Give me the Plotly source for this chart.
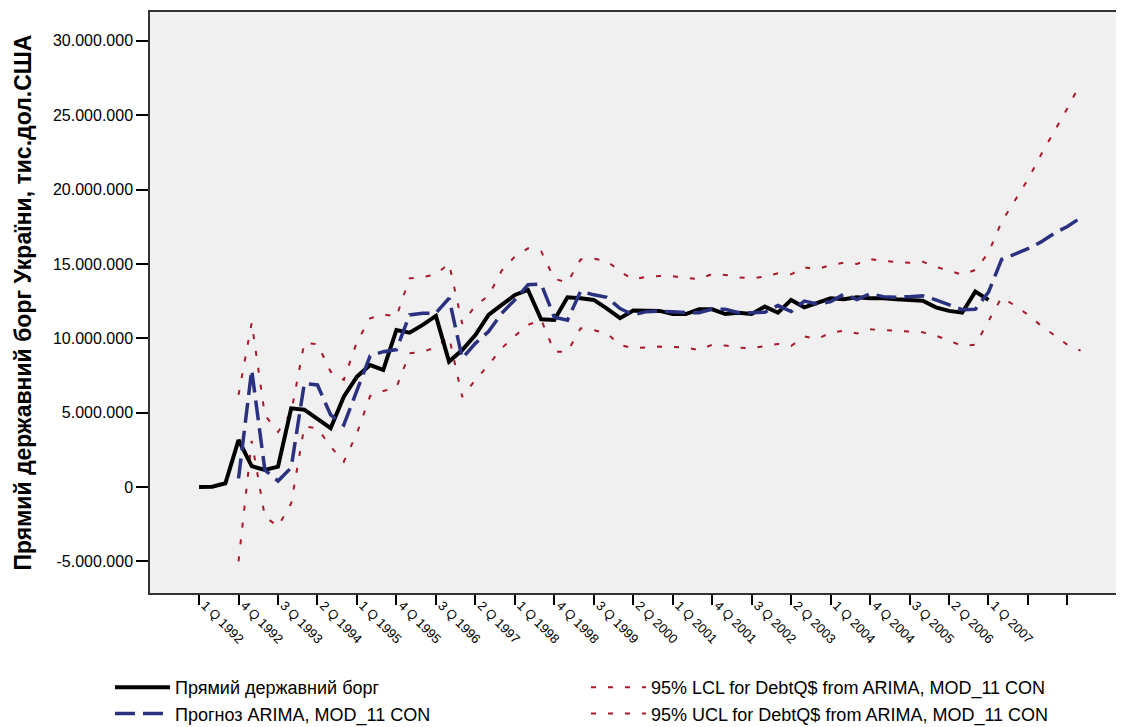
import plotly.graph_objects as go

# Quarter index (0 = 1 Q 1992)
tick_labels = ["1 Q 1992", "4 Q 1992", "3 Q 1993", "2 Q 1994", "1 Q 1995", "4 Q 1995",
               "3 Q 1996", "2 Q 1997", "1 Q 1998", "4 Q 1998", "3 Q 1999", "2 Q 2000",
               "1 Q 2001", "4 Q 2001", "3 Q 2002", "2 Q 2003", "1 Q 2004", "4 Q 2004",
               "3 Q 2005", "2 Q 2006", "1 Q 2007", "", ""]
tick_positions = [0, 3, 6, 9, 12, 15, 18, 21, 24, 27, 30, 33, 36, 39, 42, 45, 48, 51, 54, 57, 60, 63, 66]

y_tick_values = [-5e6, 0, 5e6, 10e6, 15e6, 20e6, 25e6, 30e6]
y_tick_labels = ["-5.000.000", "0", "5.000.000", "10.000.000", "15.000.000",
                 "20.000.000", "25.000.000", "30.000.000"]

# Values in millions of thousand USD
actual_start = 0
actual = [0.0, 0.02, 0.25, 3.16, 1.4, 1.14, 1.37, 5.29, 5.2, 4.6,
          3.95, 6.07, 7.42, 8.2, 7.87, 10.56, 10.38, 10.9, 11.5, 8.43,
          9.21, 10.22, 11.57, 12.24, 12.91, 13.25, 11.28, 11.23, 12.76, 12.69,
          12.58, 12.0, 11.35, 11.86, 11.85, 11.84, 11.63, 11.63, 11.95, 11.95,
          11.63, 11.72, 11.63, 12.13, 11.72, 12.58, 12.08, 12.39, 12.69, 12.62,
          12.76, 12.69, 12.69, 12.62, 12.58, 12.53, 12.08, 11.84, 11.72, 13.14,
          12.58]

model_start = 3
forecast = [0.58, 7.87, 1.14, 0.4, 1.3, 6.97, 6.86, 4.84, 4.17, 6.52,
            8.81, 9.1, 9.24, 11.57, 11.68, 11.7, 12.69, 8.65, 9.66, 10.45,
            11.68, 12.58, 13.6, 13.65, 11.42, 11.22, 13.17, 12.92, 12.75, 12.0,
            11.57, 11.79, 11.82, 11.79, 11.72, 11.72, 11.97, 11.95, 11.72, 11.72,
            11.75, 12.2, 11.8, 12.5, 12.3, 12.46, 12.96, 12.6, 13.0, 12.8,
            12.76, 12.8, 12.85, 12.58, 12.24, 11.92, 11.95, 13.1, 15.3, 15.63,
            16.02, 16.48, 17.06, 17.52, 18.1]

lcl = [-5.0, 3.1, -2.0, -2.65, -1.1, 4.06, 3.95, 2.71, 1.7, 3.61,
       6.12, 6.45, 6.7, 9.0, 9.08, 9.4, 10.1, 6.05, 7.2, 8.2,
       9.33, 10.15, 10.9, 11.25, 9.1, 9.1, 10.67, 10.54, 10.33, 9.55,
       9.33, 9.4, 9.44, 9.42, 9.37, 9.21, 9.57, 9.51, 9.37, 9.33,
       9.48, 9.62, 9.48, 10.13, 9.95, 10.38, 10.51, 10.33, 10.6, 10.54,
       10.47, 10.42, 10.4, 10.18, 9.86, 9.49, 9.56, 11.2, 12.75, 12.2,
       11.58, 10.85, 10.21, 9.56, 9.17]

ucl = [6.19, 11.05, 4.84, 3.7, 5.0, 9.7, 9.6, 7.75, 7.2, 9.77,
       11.34, 11.61, 11.45, 14.03, 14.12, 14.3, 15.02, 10.98, 12.2, 12.85,
       14.55, 15.49, 16.05, 15.85, 14.0, 13.75, 15.3, 15.35, 15.2, 14.48,
       13.95, 14.14, 14.19, 14.17, 14.05, 13.98, 14.32, 14.26, 14.1, 14.03,
       14.14, 14.37, 14.3, 14.77, 14.64, 14.93, 15.08, 15.0, 15.33, 15.2,
       15.13, 15.08, 15.15, 14.8, 14.55, 14.27, 14.6, 15.75, 17.83, 19.26,
       20.68, 22.36, 23.91, 25.47, 27.15]

UNIT = 1e6

x_actual = list(range(actual_start, actual_start + len(actual)))
x_model = list(range(model_start, model_start + len(forecast)))

red = "#a8192a"
blue = "#2a3180"
font_family = "Liberation Sans, Arial, sans-serif"

fig = go.Figure()
fig.add_trace(go.Scatter(x=x_model, y=[v * UNIT for v in lcl], mode="lines",
                         name="95% LCL for DebtQ$ from ARIMA, MOD_11 CON",
                         line=dict(color=red, width=2, dash="5px,12px"), legendrank=2))
fig.add_trace(go.Scatter(x=x_model, y=[v * UNIT for v in ucl], mode="lines",
                         name="95% UCL for DebtQ$ from ARIMA, MOD_11 CON",
                         line=dict(color=red, width=2, dash="5px,12px"), legendrank=4))
fig.add_trace(go.Scatter(x=x_actual, y=[v * UNIT for v in actual], mode="lines",
                         name="Прямий державний борг",
                         line=dict(color="black", width=4), legendrank=1))
fig.add_trace(go.Scatter(x=x_model, y=[v * UNIT for v in forecast], mode="lines",
                         name="Прогноз ARIMA, MOD_11 CON",
                         line=dict(color=blue, width=3.5, dash="20px,8px"), legendrank=3))

# The page body adds an 8px offset; figure size/margins account for it.
fig.update_layout(
    width=1116, height=719,
    margin=dict(l=142, r=0, t=4, b=134, autoexpand=False),
    paper_bgcolor="white",
    plot_bgcolor="#f0f0f0",
    font=dict(family=font_family, color="black"),
    showlegend=True,
    legend=dict(orientation="h", x=-0.0411, xanchor="left", y=-0.1308, yanchor="top",
                entrywidth=406, entrywidthmode="pixels", itemwidth=55,
                font=dict(size=18, family=font_family), bgcolor="rgba(0,0,0,0)",
                traceorder="normal"),
    xaxis=dict(range=[-3.73, 70.3], tickmode="array", tickvals=tick_positions,
               ticktext=tick_labels, tickangle=45, ticks="outside", ticklen=10,
               tickcolor="black", tickwidth=1.5, showline=True, linecolor="#333",
               linewidth=1.5, mirror=True, showgrid=False, zeroline=False,
               automargin=False, ticklabelstandoff=-12, ticklabelshift=6,
               tickfont=dict(size=13, family=font_family)),
    yaxis=dict(range=[-7.13e6, 31.94e6], tickmode="array", tickvals=y_tick_values,
               ticktext=y_tick_labels, ticks="outside", ticklen=12, tickcolor="black",
               tickwidth=1.5, showline=True, linecolor="#333", linewidth=1.5,
               showgrid=False, zeroline=False, automargin=False,
               tickfont=dict(size=16, family=font_family),
               title=dict(text="<b>Прямий державний борг України, тис.дол.США</b>",
                          font=dict(size=23, family=font_family), standoff=15)),
)

fig.write_html("out.html")
